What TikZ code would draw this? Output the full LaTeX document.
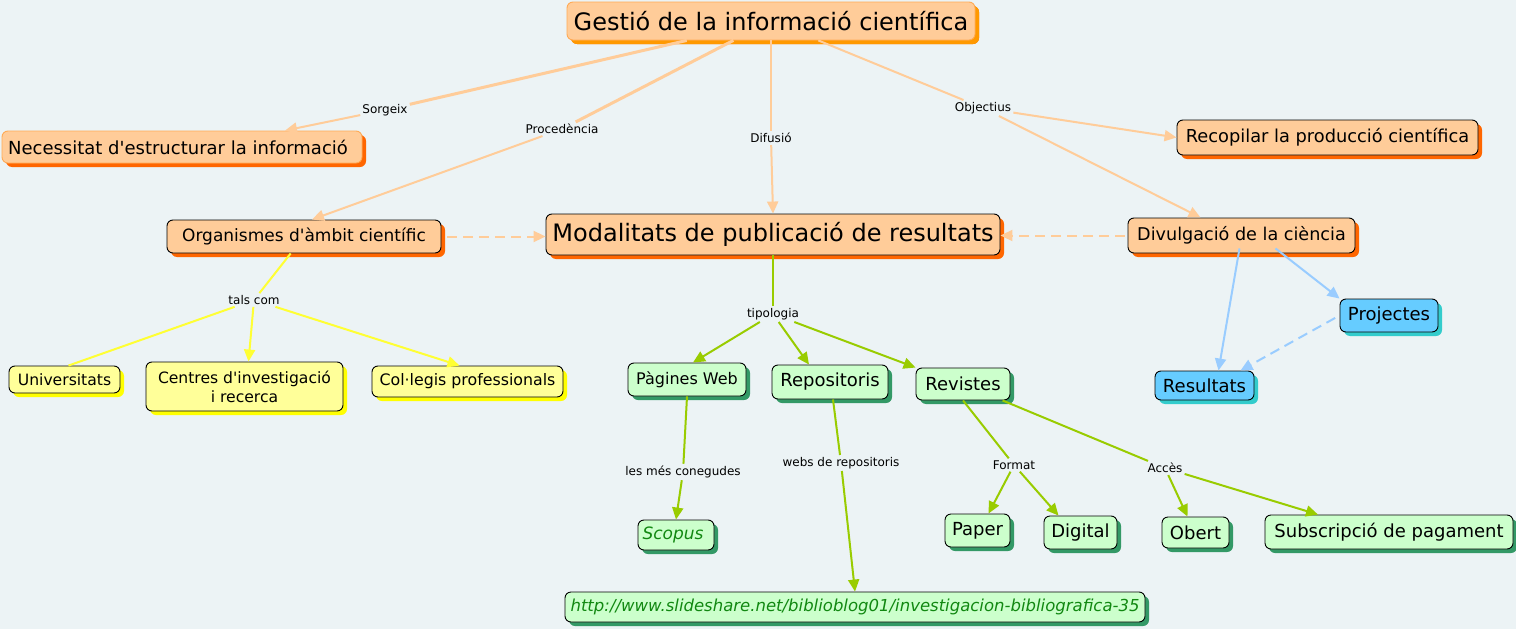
\documentclass[tikz,border=0pt]{standalone}
\usepackage{fontspec}
\setmainfont{DejaVu Sans}
\usetikzlibrary{arrows.meta,shadows}
\definecolor{bg}{HTML}{ECF3F5}
\definecolor{peach}{HTML}{FFCC99}
\definecolor{peachline}{HTML}{FFCC99}
\definecolor{orsh}{HTML}{FF6600}
\definecolor{orsh2}{HTML}{FF9900}
\definecolor{orbord}{HTML}{FFAA55}
\definecolor{blfill}{HTML}{66CCFF}
\definecolor{blsh}{HTML}{33CCCC}
\definecolor{blline}{HTML}{99CCFF}
\definecolor{yefill}{HTML}{FFFF99}
\definecolor{yesh}{HTML}{FFFF00}
\definecolor{yeline}{HTML}{FFFF33}
\definecolor{grfill}{HTML}{CCFFCC}
\definecolor{grsh}{HTML}{339966}
\definecolor{grline}{HTML}{99CC00}
\definecolor{grtext}{HTML}{118811}
\newcommand{\ap}{\textquotesingle}
\tikzset{
  cbox/.style={rounded corners=6pt, draw=black, line width=0.9pt, inner sep=0pt, align=center,
     drop shadow={shadow xshift=4pt, shadow yshift=-4pt, fill=#1, opacity=1}},
  orbox/.style={cbox=orsh, fill=peach},
  blbox/.style={cbox=blsh, fill=blfill},
  yebox/.style={cbox=yesh, fill=yefill},
  grbox/.style={cbox=grsh, fill=grfill},
  lbl/.style={fill=bg, inner sep=2pt, font=\fontsize{12}{14}\selectfont},
  tip/.style={-{Triangle[length=12pt,width=11pt]}},
  pl/.style={draw=peachline, line width=2pt},
  gl/.style={draw=grline, line width=2pt},
  yl/.style={draw=yeline, line width=2pt},
  bl/.style={draw=blline, line width=2pt},
}
\begin{document}
\begin{tikzpicture}[x=1pt,y=-1pt]
\fill[bg] (0,0) rectangle (1516,629);
\useasboundingbox (0,0) rectangle (1516,629);
% nodes
\node[orbox, cbox=orsh2, draw=orbord, minimum width=408pt, minimum height=38pt, font=\fontsize{24}{28}\selectfont] (gestio) at (771,21) {Gestió de la informació científica};
\node[orbox, draw=orbord, minimum width=360pt, minimum height=32pt, font=\fontsize{18}{21}\selectfont] (nec) at (182,147) {Necessitat d\ap estructurar la informació\hspace{8pt}};
\node[orbox, minimum width=274pt, minimum height=33pt, font=\fontsize{17}{20}\selectfont] (org) at (304,236.5) {Organismes d\ap àmbit científic};
\node[orbox, minimum width=454pt, minimum height=41pt, font=\fontsize{24}{28}\selectfont] (mod) at (773,234.5) {Modalitats de publicació de resultats};
\node[orbox, minimum width=301pt, minimum height=35pt, font=\fontsize{17.8}{21}\selectfont] (recop) at (1327.5,137.5) {Recopilar la producció científica};
\node[orbox, minimum width=227pt, minimum height=35pt, font=\fontsize{17.6}{21}\selectfont] (divul) at (1241.5,235.5) {Divulgació de la ciència};
\node[blbox, minimum width=98pt, minimum height=33pt, font=\fontsize{18}{21}\selectfont] (proj) at (1389,315.5) {Projectes};
\node[blbox, minimum width=99pt, minimum height=29pt, font=\fontsize{18}{21}\selectfont] (res) at (1204.5,385.5) {Resultats};
\node[yebox, minimum width=111pt, minimum height=27pt, font=\fontsize{15.6}{18}\selectfont] (univ) at (64.5,379.5) {Universitats};
\node[yebox, minimum width=197pt, minimum height=49pt, font=\fontsize{15.6}{19}\selectfont] (centres) at (244.5,386.5) {Centres d\ap investigació\\i recerca};
\node[yebox, minimum width=191pt, minimum height=31pt, font=\fontsize{15.8}{18}\selectfont] (colegis) at (467.5,381.5) {Col·legis professionals};
\node[grbox, minimum width=118pt, minimum height=33pt, font=\fontsize{16}{19}\selectfont] (pag) at (687,379.5) {Pàgines Web};
\node[grbox, minimum width=116pt, minimum height=34pt, font=\fontsize{18}{21}\selectfont] (repo) at (830,382) {Repositoris};
\node[grbox, minimum width=94pt, minimum height=32pt, font=\fontsize{18}{21}\selectfont] (rev) at (963,384) {Revistes};
\node[grbox, minimum width=76pt, minimum height=30pt, font=\fontsize{17}{20}\selectfont\itshape, text=grtext] (scopus) at (676,535) {Scopus\hspace{6pt}};
\node[grbox, minimum width=580pt, minimum height=30pt, font=\fontsize{16.5}{20}\selectfont\itshape, text=grtext] (url) at (855,607) {http://www.slideshare.net/biblioblog01/investigacion-bibliografica-35};
\node[grbox, minimum width=65pt, minimum height=33pt, font=\fontsize{18}{21}\selectfont] (paper) at (977.5,530.5) {Paper};
\node[grbox, minimum width=73pt, minimum height=33pt, font=\fontsize{18}{21}\selectfont] (digital) at (1080.5,532.5) {Digital};
\node[grbox, minimum width=67pt, minimum height=31pt, font=\fontsize{18}{21}\selectfont] (obert) at (1195.5,532.5) {Obert};
\node[grbox, minimum width=248pt, minimum height=34pt, font=\fontsize{18}{21}\selectfont] (subs) at (1389,532) {Subscripció de pagament};
% labels
\node[lbl] (sorgeix) at (385,110) {Sorgeix};
\node[lbl] (proc) at (562,129) {Procedència};
\node[lbl] (difusio) at (771,138) {Difusió};
\node[lbl] (obj) at (983,108) {Objectius};
\node[lbl] (tals) at (254,300) {tals com};
\node[lbl] (tipo) at (773,314) {tipologia};
\node[lbl] (lesmes) at (683,472) {les més conegudes};
\node[lbl] (webs) at (841,463) {webs de repositoris};
\node[lbl] (format) at (1014,465) {Format};
\node[lbl] (acces) at (1165,468) {Accès};
% peach connectors
\draw[pl, line width=3pt] (gestio) -- (sorgeix);
\draw[pl, tip] (sorgeix) -- ([xshift=103pt]nec.north);
\draw[pl, line width=3pt] (gestio) -- (proc);
\draw[pl, tip] (proc) -- ([xshift=8pt]org.north);
\draw[pl, line width=2.5pt] (gestio.south) -- (difusio);
\draw[pl, tip] (difusio) -- (mod.north);
\draw[pl] (gestio) -- (obj);
\draw[pl, tip] (obj) -- (recop.west);
\draw[pl, tip] (obj) -- ([xshift=-41pt]divul.north);
\draw[pl, tip, dashed, dash pattern=on 10pt off 6pt, shorten <=6pt] (org.east) -- (org.east -| mod.west);
\draw[pl, tip, dashed, dash pattern=on 10pt off 6pt, shorten <=3pt] (divul.west) -- (divul.west -| mod.east);
% blue
\draw[bl, tip] ([xshift=-2pt,yshift=5pt]divul.south) -- ([xshift=14pt]res.north);
\draw[bl, tip] ([xshift=34pt,yshift=5pt]divul.south) -- (proj.north west);
\draw[bl, tip, dashed, dash pattern=on 10pt off 6pt, shorten <=5pt] (proj.west) -- ([xshift=36pt]res.north);
% yellow
\draw[yl] (org) -- (tals);
\draw[yl] (tals) -- ([xshift=4pt]univ.north);
\draw[yl, tip] (tals) -- ([xshift=4pt]centres.north);
\draw[yl, tip] (tals) -- ([xshift=-8pt]colegis.north);
% green
\draw[gl] (mod.south) -- (tipo);
\draw[gl, tip] (tipo) -- ([xshift=6pt]pag.north);
\draw[gl, tip] (tipo) -- ([xshift=-21pt]repo.north);
\draw[gl, tip] (tipo) -- (rev.north west);
\draw[gl] (pag.south) -- (lesmes);
\draw[gl, tip] (lesmes) -- (scopus.north);
\draw[gl] ([xshift=3pt]repo.south) -- (webs);
\draw[gl, tip] (webs) -- (url.north);
\draw[gl] (rev.south) -- (format);
\draw[gl, tip] (format) -- ([xshift=11pt]paper.north);
\draw[gl, tip] (format) -- ([xshift=-22pt]digital.north);
\draw[gl] (rev) -- (acces);
\draw[gl, tip] (acces) -- ([xshift=-8pt]obert.north);
\draw[gl, tip] (acces) -- ([xshift=-71pt]subs.north);
\end{tikzpicture}
\end{document}
